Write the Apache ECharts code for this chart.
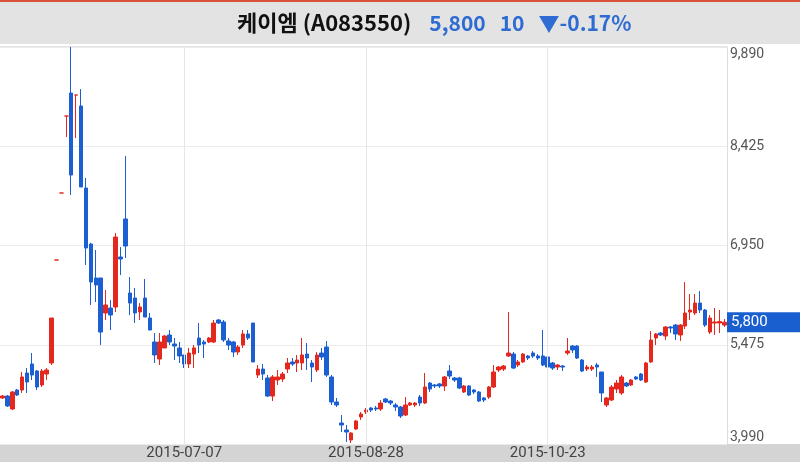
<!DOCTYPE html>
<html>
<head>
<meta charset="utf-8">
<script src="https://cdn.jsdelivr.net/npm/echarts@6/dist/echarts.min.js"></script>
<style>
html,body{margin:0;padding:0;background:#fff;}
#chart{width:800px;height:462px;}
</style>
</head>
<body>
<div id="chart"></div>
<script>
var dates = [
'2015-05-14','2015-05-15','2015-05-18','2015-05-19','2015-05-20','2015-05-21','2015-05-22','2015-05-26','2015-05-27','2015-05-28','2015-05-29',
'2015-06-01','2015-06-02','2015-06-03','2015-06-04','2015-06-05','2015-06-08','2015-06-09','2015-06-10','2015-06-11','2015-06-12','2015-06-15','2015-06-16','2015-06-17','2015-06-18','2015-06-19','2015-06-22','2015-06-23','2015-06-24','2015-06-25','2015-06-26','2015-06-29','2015-06-30',
'2015-07-01','2015-07-02','2015-07-03','2015-07-06','2015-07-07','2015-07-08','2015-07-09','2015-07-10','2015-07-13','2015-07-14','2015-07-15','2015-07-16','2015-07-17','2015-07-20','2015-07-21','2015-07-22','2015-07-23','2015-07-24','2015-07-27','2015-07-28','2015-07-29','2015-07-30','2015-07-31',
'2015-08-03','2015-08-04','2015-08-05','2015-08-06','2015-08-07','2015-08-10','2015-08-11','2015-08-12','2015-08-13','2015-08-17','2015-08-18','2015-08-19','2015-08-20','2015-08-21','2015-08-24','2015-08-25','2015-08-26','2015-08-27','2015-08-28','2015-08-31',
'2015-09-01','2015-09-02','2015-09-03','2015-09-04','2015-09-07','2015-09-08','2015-09-09','2015-09-10','2015-09-11','2015-09-14','2015-09-15','2015-09-16','2015-09-17','2015-09-18','2015-09-21','2015-09-22','2015-09-23','2015-09-24','2015-09-25','2015-09-30',
'2015-10-01','2015-10-02','2015-10-05','2015-10-06','2015-10-07','2015-10-08','2015-10-12','2015-10-13','2015-10-14','2015-10-15','2015-10-16','2015-10-19','2015-10-20','2015-10-21','2015-10-22','2015-10-23','2015-10-26','2015-10-27','2015-10-28','2015-10-29','2015-10-30',
'2015-11-02','2015-11-03','2015-11-04','2015-11-05','2015-11-06','2015-11-09','2015-11-10','2015-11-11','2015-11-12','2015-11-13','2015-11-16','2015-11-17','2015-11-18','2015-11-19','2015-11-20','2015-11-23','2015-11-24','2015-11-25','2015-11-26','2015-11-27','2015-11-30',
'2015-12-01','2015-12-02','2015-12-03','2015-12-04','2015-12-07','2015-12-08','2015-12-09','2015-12-10','2015-12-11','2015-12-14'
];

var opens = [
4674,4703,4510,4792,4792,5045,5179,5075,4867,5030,5194,6724,7720,8864,9206,9176,9013,7794,6962,6457,
6457,5937,6011,6026,6769,7334,6234,6160,5952,6160,5862,5506,5253,5417,5610,5476,5417,5313,5179,5327,
5565,5506,5506,5506,5833,5803,5521,5506,5357,5461,5625,5788,5015,5104,4971,4703,4941,4956,5104,5209,
5194,5194,5327,5194,5090,5342,5431,4986,4614,4302,4198,4049,4213,4391,4466,4525,4525,4510,4659,4629,
4570,4540,4421,4570,4570,4688,4599,4896,4867,4882,4852,5075,4971,4971,4763,4852,4792,4763,4674,4688,
4837,5090,5104,5298,5327,5164,5209,5298,5342,5298,5298,5283,5194,5134,5149,5342,5446,5446,5238,5104,
5104,5164,5060,4570,4644,4807,4748,4896,4867,4986,5030,4911,5209,5565,5639,5595,5729,5758,5610,5743,
5952,5937,6085,5981,5654,5788,5788,5758
];
var closes = [
4703,4555,4763,4718,4986,4911,5015,4837,5075,5090,5862,6724,7720,8864,7987,9176,7809,6903,6397,6353,
5654,6056,5907,7066,6739,6932,6085,5937,6026,5877,5684,5313,5506,5595,5506,5446,5298,5179,5342,5417,
5461,5476,5565,5788,5788,5536,5461,5357,5432,5625,5565,5209,5104,5030,4703,4986,4986,5030,5194,5179,
5238,5313,5268,5134,5313,5283,5015,4614,4570,4272,4168,4153,4332,4436,4495,4495,4510,4599,4614,4599,
4540,4406,4570,4599,4599,4599,4837,4807,4852,4852,4986,5000,4941,4822,4852,4718,4763,4629,4644,4837,
5060,5134,5149,5342,5119,5209,5327,5268,5298,5268,5164,5134,5119,5164,5134,5372,5387,5268,5075,5134,
5134,5134,4748,4674,4837,4896,4986,4852,4941,4956,4941,5194,5536,5625,5610,5729,5714,5625,5758,5937,
5981,6085,5981,5758,5862,5803,5810,5800
];
var lows = [
4659,4540,4495,4703,4748,4748,4941,4792,4837,4941,5164,6724,7720,8552,7690,8537,7809,6650,6056,6100,
5461,5833,5684,5952,6501,6754,5907,5788,5833,5877,5684,5194,5164,5417,5461,5238,5194,5119,5119,5119,
5342,5268,5490,5490,5773,5506,5387,5283,5313,5417,5536,5209,4971,4941,4688,4629,4867,4911,5045,5149,
5060,5090,5090,4911,5060,5238,4986,4570,4540,4168,4020,4005,4198,4347,4436,4466,4480,4480,4599,4570,
4480,4376,4406,4555,4540,4555,4584,4763,4822,4822,4778,4956,4911,4807,4748,4703,4733,4614,4614,4659,
4822,5060,5075,5283,5104,5134,5194,5238,5268,5238,5149,5119,5090,5090,5075,5313,5342,5253,5060,5075,
5075,4986,4614,4540,4629,4748,4718,4837,4852,4941,4926,4896,5194,5461,5595,5536,5640,5536,5521,5699,
5833,5907,5937,5729,5625,5610,5640,5729
];
var highs = [
4718,4718,4778,4807,5060,5119,5342,5090,5104,5119,5862,6724,7720,8864,9890,9176,9265,7943,6980,6873,
6457,6278,6130,7125,6917,8270,6472,6308,6085,6442,5937,5639,5639,5610,5684,5565,5506,5313,5417,5461,
5788,5536,5580,5833,5848,5833,5565,5521,5461,5684,5684,5788,5164,5179,5015,5015,5090,5060,5268,5268,
5313,5565,5491,5238,5357,5417,5521,5015,4674,4421,4272,4168,4347,4466,4525,4540,4555,4644,4674,4644,
4599,4555,4688,4614,4614,4718,5045,4911,4882,4896,5000,5164,4986,4986,4867,4867,4807,4778,4688,4852,
5164,5149,5164,5952,5357,5238,5342,5313,5372,5327,5684,5313,5209,5179,5164,5565,5461,5461,5253,5164,
5164,5194,5060,4688,4867,4941,5015,4911,4956,5000,5045,5209,5669,5639,5654,5743,5743,5773,5773,6397,
6218,6218,6263,5996,5907,6011,5981,5848
];

var yTickLabels = ['3,990', '5,475', '6,950', '8,425', '9,890'];
var xLabelDates = ['2015-07-07', '2015-08-28', '2015-10-23'];
var lastPrice = 5800;
var lastPriceLabel = '5,800';
var titleName = '케이엠 (A083550)';
var titleQuote = ['5,800', '10', '▼-0.17%'];

var ohlc = dates.map(function (d, i) {
  return [opens[i], closes[i], lows[i], highs[i]];
});

var chart = echarts.init(document.getElementById('chart'), null, {renderer: 'canvas'});
chart.setOption({
  animation: false,
  backgroundColor: '#ffffff',
  graphic: [
    {type: 'rect', z: -10, shape: {x: 0, y: 0, width: 800, height: 44}, style: {fill: '#e3e3e3'}},
    {type: 'rect', z: -9, shape: {x: 0, y: 0, width: 800, height: 2}, style: {fill: '#d9533c'}},
    {type: 'rect', z: -10, shape: {x: 0, y: 444, width: 800, height: 18}, style: {fill: '#d4d4d4'}},
    {type: 'rect', z: -10, shape: {x: 0, y: 46, width: 727, height: 1}, style: {fill: '#e4e4e4'}}
  ],
  title: {
    left: 232,
    top: 7,
    text: '{a|' + titleName + '}{g|}{b|' + titleQuote[0] + '}{s|}{b|' + titleQuote[1] + '}{s|}{b|' + titleQuote[2] + '}',
    textStyle: {
      rich: {
        a: {fontFamily: '"Noto Sans CJK KR", "Noto Sans", sans-serif', fontSize: 22, color: '#111111', fontWeight: 'bold'},
        g: {width: 18},
        s: {width: 14},
        b: {fontFamily: '"Noto Sans CJK KR", "Noto Sans", sans-serif', fontSize: 21, color: '#2e6bd2'}
      }
    }
  },
  grid: {left: 0, right: 73, top: 47, bottom: 18, containLabel: false},
  xAxis: {
    type: 'category',
    data: dates,
    boundaryGap: true,
    axisLine: {show: false},
    axisTick: {show: false},
    splitLine: {show: false},
    axisLabel: {
      margin: 2,
      color: '#444444',
      fontSize: 15,
      fontFamily: 'Roboto, sans-serif',
      interval: function (index, value) { return xLabelDates.indexOf(value) >= 0; }
    }
  },
  yAxis: {
    type: 'value',
    position: 'right',
    min: 3990,
    max: 9890,
    interval: 1475,
    axisLine: {show: true, lineStyle: {color: '#dedede'}},
    axisTick: {show: false},
    splitLine: {show: true, lineStyle: {color: '#ebebeb'}},
    axisLabel: {
      margin: 3,
      color: '#555555',
      fontSize: 14,
      fontFamily: 'Roboto, sans-serif',
      verticalAlignMaxLabel: 'top',
      verticalAlignMinLabel: 'bottom',
      formatter: function (v, i) { return yTickLabels[i]; }
    }
  },
  series: [
    {
      type: 'line',
      z: 1,
      data: [],
      silent: true,
      markLine: {
        silent: true,
        symbol: 'none',
        animation: false,
        label: {show: false},
        lineStyle: {color: '#e6e6e6', type: 'solid', width: 1},
        data: xLabelDates.map(function (d) { return {xAxis: d}; })
      }
    },
    {
      type: 'candlestick',
      z: 2,
      data: ohlc,
      barWidth: 4,
      itemStyle: {
        color: '#e5281e',
        color0: '#1b5fd2',
        borderColor: '#e5281e',
        borderColor0: '#1b5fd2',
        borderWidth: 1
      },
      markLine: {
        silent: true,
        symbol: 'none',
        animation: false,
        lineStyle: {color: 'rgba(0,0,0,0)', width: 1, type: 'solid'},
        label: {
          show: true,
          position: 'end',
          distance: 0,
          formatter: lastPriceLabel,
          backgroundColor: '#1a5fd0',
          color: '#ffffff',
          fontSize: 15,
          fontFamily: 'Roboto, sans-serif',
          lineHeight: 16,
          padding: [2, 4, 2, 4],
          width: 65,
          align: 'left'
        },
        data: [{yAxis: lastPrice}]
      }
    }
  ]
});
</script>
</body>
</html>
